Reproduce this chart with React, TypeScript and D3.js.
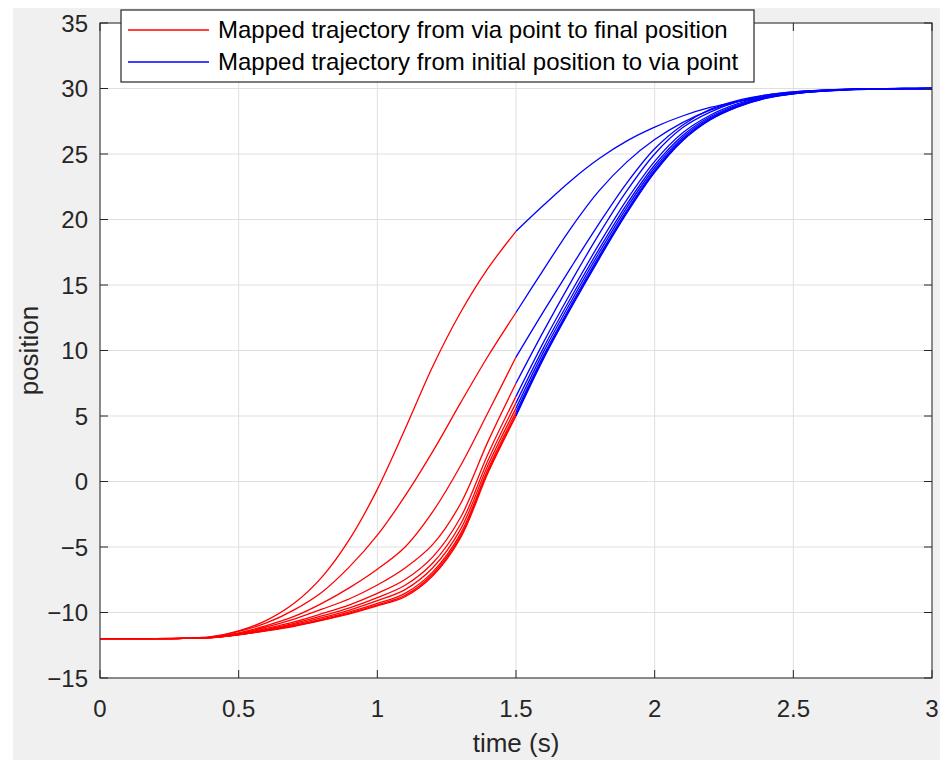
import React from "react";
import * as d3 from "d3";

// ---- data ----
const xTicks = [0, 0.5, 1, 1.5, 2, 2.5, 3];
const yTicks = [-15, -10, -5, 0, 5, 10, 15, 20, 25, 30, 35];
const legendLabels = [
  "Mapped trajectory from via point to final position",
  "Mapped trajectory from initial position to via point",
];
const xLabel = "time (s)";
const yLabel = "position";

const tRed = [0, 0.1, 0.2, 0.3, 0.4, 0.5, 0.6, 0.7, 0.8, 0.9, 1.0, 1.1, 1.2, 1.3, 1.4, 1.5];
const tBlue = [1.5, 1.6, 1.7, 1.8, 1.9, 2.0, 2.1, 2.2, 2.3, 2.4, 2.5, 2.6, 2.7, 2.8, 2.9, 3.0];

const redTraj: number[][] = [
  [-12, -12, -12, -11.97, -11.85, -11.4, -10.6, -9.3, -7.3, -4.4, -0.6, 4.0, 8.8, 12.9, 16.3, 19.1],
  [-12, -12, -12, -11.98, -11.88, -11.45, -10.8, -9.8, -8.45, -6.5, -4.1, -1.1, 2.3, 6.0, 9.6, 12.9],
  [-12, -12, -12, -11.98, -11.9, -11.55, -11.0, -10.3, -9.3, -8.1, -6.7, -5.0, -2.3, 1.2, 5.3, 9.5],
  [-12, -12, -12, -11.98, -11.9, -11.6, -11.1, -10.5, -9.75, -8.95, -7.9, -6.6, -4.8, -1.7, 3.1, 7.5],
  [-12, -12, -12, -11.98, -11.91, -11.64, -11.22, -10.72, -10.09, -9.41, -8.54, -7.48, -5.75, -2.75, 2.14, 6.5],
  [-12, -12, -12, -11.98, -11.91, -11.66, -11.28, -10.83, -10.26, -9.64, -8.86, -7.92, -6.22, -3.26, 1.66, 6.0],
  [-12, -12, -12, -11.98, -11.92, -11.67, -11.33, -10.91, -10.39, -9.81, -9.1, -8.25, -6.58, -3.65, 1.3, 5.6],
  [-12, -12, -12, -11.98, -11.92, -11.69, -11.36, -10.98, -10.5, -9.96, -9.31, -8.54, -6.9, -3.98, 0.99, 5.3],
  [-12, -12, -12, -11.98, -11.92, -11.7, -11.38, -11.02, -10.56, -10.04, -9.42, -8.69, -7.06, -4.17, 0.82, 5.1],
  [-12, -12, -12, -11.98, -11.92, -11.7, -11.4, -11.05, -10.6, -10.1, -9.5, -8.8, -7.2, -4.3, 0.7, 5.0],
];

const blueTraj: number[][] = [
  [19.1, 21.1, 23.0, 24.65, 26.0, 27.05, 27.9, 28.55, 29.0, 29.35, 29.6, 29.78, 29.9, 29.96, 29.99, 30],
  [12.9, 16.2, 19.4, 22.2, 24.4, 26.1, 27.4, 28.35, 29.0, 29.4, 29.67, 29.84, 29.93, 29.98, 30, 30],
  [9.5, 13.0, 16.4, 19.7, 22.8, 25.4, 27.2, 28.4, 29.1, 29.5, 29.74, 29.87, 29.95, 29.98, 30, 30],
  [7.5, 11.5, 15.3, 18.9, 22.2, 25.0, 27.0, 28.2, 29.0, 29.5, 29.75, 29.88, 29.95, 29.98, 30, 30],
  [6.5, 10.66, 14.5, 18.14, 21.52, 24.44, 26.6, 27.96, 28.84, 29.4, 29.69, 29.85, 29.93, 29.98, 30, 30],
  [6.0, 10.24, 14.1, 17.76, 21.18, 24.16, 26.4, 27.84, 28.76, 29.35, 29.66, 29.83, 29.93, 29.97, 29.99, 30],
  [5.6, 9.93, 13.8, 17.48, 20.93, 23.95, 26.25, 27.75, 28.7, 29.31, 29.64, 29.82, 29.92, 29.97, 29.99, 30],
  [5.3, 9.65, 13.54, 17.23, 20.7, 23.77, 26.12, 27.67, 28.65, 29.28, 29.62, 29.81, 29.91, 29.97, 29.99, 30],
  [5.1, 9.5, 13.4, 17.1, 20.59, 23.67, 26.05, 27.63, 28.62, 29.26, 29.61, 29.8, 29.91, 29.97, 29.99, 30],
  [5.0, 9.4, 13.3, 17.0, 20.5, 23.6, 26.0, 27.6, 28.6, 29.25, 29.6, 29.8, 29.91, 29.97, 29.99, 30],
];

// ---- layout ----
const W = 951;
const H = 760;
const left = 100, right = 932, top = 23, bottom = 678;
const font = "'Liberation Sans', Arial, Helvetica, sans-serif";
const axisColor = "#262626";
const gridColor = "#dfdfdf";

const fmt = (v: number) => (v < 0 ? "\u2212" + Math.abs(v) : String(v));

export default function App() {
  const x = d3.scaleLinear().domain([0, 3]).range([left, right]);
  const y = d3.scaleLinear().domain([-15, 35]).range([bottom, top]);
  const line = d3
    .line<[number, number]>()
    .x((d) => x(d[0]))
    .y((d) => y(d[1]))
    .curve(d3.curveCatmullRom.alpha(0.5));
  const tickLen = 8;

  return (
    <div style={{ position: "absolute", left: 0, top: 0 }}>
      <svg width={W} height={H} style={{ display: "block" }}>
        <rect x={0} y={0} width={W} height={H} fill="#ffffff" />
        <rect x={13} y={8} width={927} height={H - 8} fill="#f0f0f0" />
        <rect x={left} y={top} width={right - left} height={bottom - top} fill="#ffffff" />
        {/* grid */}
        {xTicks.map((t) => (
          <line key={"gx" + t} x1={x(t)} x2={x(t)} y1={top} y2={bottom} stroke={gridColor} strokeWidth={1} />
        ))}
        {yTicks.map((t) => (
          <line key={"gy" + t} x1={left} x2={right} y1={y(t)} y2={y(t)} stroke={gridColor} strokeWidth={1} />
        ))}
        {/* curves */}
        <g fill="none" strokeWidth={1.3}>
          {redTraj.map((vals, i) => (
            <path key={"r" + i} d={line(tRed.map((t, j) => [t, vals[j]]))!} stroke="#ff0000" />
          ))}
          {blueTraj.map((vals, i) => (
            <path key={"b" + i} d={line(tBlue.map((t, j) => [t, vals[j]]))!} stroke="#0000ff" />
          ))}
        </g>
        {/* axes box and ticks */}
        <rect x={left} y={top} width={right - left} height={bottom - top} fill="none" stroke={axisColor} strokeWidth={1} />
        {xTicks.map((t) => (
          <g key={"tx" + t} stroke={axisColor}>
            <line x1={x(t)} x2={x(t)} y1={bottom} y2={bottom - tickLen} />
            <line x1={x(t)} x2={x(t)} y1={top} y2={top + tickLen} />
          </g>
        ))}
        {yTicks.map((t) => (
          <g key={"ty" + t} stroke={axisColor}>
            <line x1={left} x2={left + tickLen} y1={y(t)} y2={y(t)} />
            <line x1={right} x2={right - tickLen} y1={y(t)} y2={y(t)} />
          </g>
        ))}
        {/* tick labels */}
        <g fontFamily={font} fontSize={24} fill={axisColor}>
          {xTicks.map((t) => (
            <text key={"lx" + t} x={x(t)} y={bottom + 39} textAnchor="middle">
              {fmt(t)}
            </text>
          ))}
          {yTicks.map((t) => (
            <text key={"ly" + t} x={left - 12} y={y(t) + 8.5} textAnchor="end">
              {fmt(t)}
            </text>
          ))}
        </g>
        {/* axis labels */}
        <text x={(left + right) / 2} y={752} textAnchor="middle" fontFamily={font} fontSize={26} fill={axisColor}>
          {xLabel}
        </text>
        <text
          transform={`translate(38, ${(top + bottom) / 2}) rotate(-90)`}
          textAnchor="middle"
          fontFamily={font}
          fontSize={26}
          fill={axisColor}
        >
          {yLabel}
        </text>
        {/* legend */}
        <rect x={121} y={10} width={633} height={72} fill="#ffffff" stroke={axisColor} strokeWidth={1.2} />
        {legendLabels.map((lab, i) => (
          <g key={"lg" + i}>
            <line x1={128} x2={209} y1={30 + i * 32} y2={30 + i * 32} stroke={i === 0 ? "#ff0000" : "#0000ff"} strokeWidth={1.3} />
            <text x={218} y={30 + i * 32 + 8} fontFamily={font} fontSize={24} fill="#000000">
              {lab}
            </text>
          </g>
        ))}
      </svg>
    </div>
  );
}
